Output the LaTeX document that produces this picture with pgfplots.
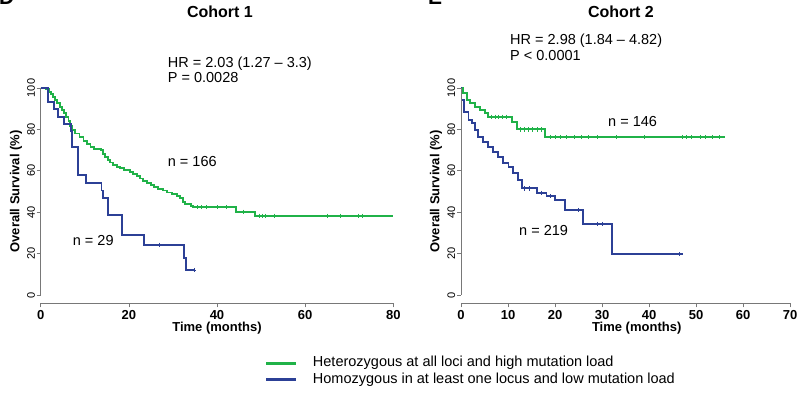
\documentclass[border=0pt]{standalone}
\usepackage{pgfplots}
\pgfplotsset{compat=1.18}
\usepackage{fontspec}
\setmainfont{Liberation Sans}
\definecolor{kmgreen}{RGB}{32,178,72}
\definecolor{kmblue}{RGB}{44,64,150}
\definecolor{axgray}{RGB}{120,120,120}
\newcommand{\fs}[1]{\fontsize{#1bp}{#1bp}\selectfont}
\pgfplotsset{
  kmaxis/.style={
    scale only axis, height=223.6bp,
    ymin=-4, ymax=104, ytick={0,20,...,100},
    axis lines*=left, axis line style={draw=none},
    tick align=outside, major tick length=4bp,
    every tick/.style={axgray, line width=0.6bp},
    clip=false,
    /pgf/number format/assume math mode=true,
    yticklabel style={font=\fs{11}, rotate=90, anchor=south, inner sep=1.5bp},
    xticklabel style={font=\bfseries\fs{13}, anchor=north, inner sep=1.5bp, yshift=-1bp},
    xlabel={Time (months)}, ylabel={Overall Survival (\%)},
    xlabel style={font=\bfseries\fs{13}, anchor=base},
    ylabel style={font=\bfseries\fs{13}, anchor=center, rotate=0},
  },
  kmline/.style={const plot, line width=1.9bp},
  censor/.style={only marks, mark=+, mark size=2.2bp, mark options={line width=0.6bp}},
}
\begin{document}
\begin{tikzpicture}
\path[use as bounding box] (0,0) rectangle (803bp,402bp);
% panel letters (cut off at top, as in the original figure)
\node[anchor=base west, inner sep=0, font=\bfseries\fs{21}] at (-1bp,397bp) {D};
\node[anchor=base west, inner sep=0, font=\bfseries\fs{21}] at (428bp,397bp) {E};
% ---------------- Cohort 1 ----------------
\begin{axis}[kmaxis, at={(40.7bp,98.7bp)}, anchor=south west, width=352.6bp,
  xmin=0, xmax=80, xtick={0,20,...,80},
  xlabel style={at={(axis description cs:0.5,-0.128)}},
  ylabel style={at={(axis description cs:-0.07,0.5)}},
  legend style={draw=none, fill=none, at={(axis description cs:0.627,-0.3046)}, anchor=west,
    font=\fs{14.5}, row sep=0bp, cells={anchor=west},
    nodes={inner sep=1.5bp, text height=10.5bp, text depth=3bp}},
  legend image code/.code={\draw[#1, line width=3bp] (0bp,0bp) -- (30bp,0bp);
     \path[draw=none, fill=none] (0bp,0bp) (45bp,0bp);},
]
\addplot[kmline, kmgreen] coordinates {
(0,100)(1.2,99.4)(1.8,98.2)(2.3,97)(2.8,95.8)(3.3,94.2)(3.8,92.6)(4.3,91)(4.8,89.4)(5.3,87.8)
(5.8,86)(6.3,84)(6.7,81.5)(7.0,79.5)(7.8,78)(8.8,76.5)(9.7,74.5)(10.5,73)(11.3,71.5)(12,70.7)
(13.6,70)(14.1,68)(14.6,66.5)(15.2,65)(15.7,64)(16.5,62.8)(17.3,62)(18,61.2)(19,60.4)(20.2,59.4)
(21,58.5)(21.8,57.5)(22.5,56.3)(23.3,55)(24.2,54)(25,53)(25.8,52)(26.6,51.3)(27.7,50.5)(28.6,49.5)
(29.8,49)(31,48)(31.6,47)(32.3,45)(32.8,44)(34,43.2)(34.6,42.4)(44.4,40.2)(48.6,38.2)(80,38.2)};
\addlegendentry{Heterozygous at all loci and high mutation load}
\addplot[kmline, kmblue] coordinates {
(0,100)(1.7,93.1)(3.1,89.7)(4.0,86.2)(5.2,82.8)(6.8,79.3)(7.2,71.7)(8.5,58)(10.2,54)(13.8,50.5)
(14.2,47)(15.3,38.6)(18.4,29)(23.4,24.2)(32.5,18)(33,12)(34.8,12)};
\addlegendentry{Homozygous in at least one locus and low mutation load}
\addplot[censor, kmgreen, forget plot] coordinates {
(35.5,42.4)(36.5,42.4)(37.5,42.4)(40,42.4)(42,42.4)(46,40.2)(49.5,38.2)(50.3,38.2)(51,38.2)(53,38.2)
(65,38.2)(68,38.2)(72,38.2)(73,38.2)};
\addplot[censor, kmblue, forget plot] coordinates {(27,24.2)(34.8,12)};
\end{axis}
\draw[axgray, line width=0.8bp] (40.7bp,98.7bp) -- (393.3bp,98.7bp);
\draw[axgray, line width=0.8bp] (40.7bp,107bp) -- (40.7bp,314bp);
\node[anchor=base, font=\bfseries\fs{16}] at (220bp,384bp) {Cohort 1};
\node[anchor=base west, font=\fs{14.5}, inner sep=0] at (167.7bp,334bp) {HR = 2.03 (1.27 -- 3.3)};
\node[anchor=base west, font=\fs{14.5}, inner sep=0] at (167.7bp,319.3bp) {P = 0.0028};
\node[anchor=base west, font=\fs{14.5}, inner sep=0] at (167.7bp,235.3bp) {n = 166};
\node[anchor=base west, font=\fs{14.5}, inner sep=0] at (72.7bp,156.3bp) {n = 29};
% ---------------- Cohort 2 ----------------
\begin{axis}[kmaxis, at={(461bp,98.7bp)}, anchor=south west, width=329bp,
  xmin=0, xmax=70, xtick={0,10,...,70},
  xlabel style={at={(axis description cs:0.534,-0.128)}},
  ylabel style={at={(axis description cs:-0.076,0.5)}},
]
\addplot[kmline, kmgreen] coordinates {
(0,100)(0.5,97.4)(1.2,94.2)(1.9,92.6)(3,91)(4,89.4)(5.1,87.8)(5.8,86.1)(10.8,83.7)(11.9,80)
(17.9,76.2)(56.2,76.2)};
\addplot[kmline, kmblue] coordinates {
(0,100)(0.1,94)(0.7,88.6)(1.6,84.5)(2.3,83)(3,79.7)(3.7,76.2)(4.7,74)(5.8,71.6)(6.9,69.2)
(7.9,66.8)(9,63.6)(10.1,62)(11.1,58.8)(12.2,55.6)(12.9,51.5)(16.1,49.4)(18.2,47.8)(20,45.9)
(22.1,41)(26,34.3)(32.1,19.7)(47.2,19.7)};
\addplot[censor, kmgreen] coordinates {
(6.5,86.1)(7.3,86.1)(8,86.1)(8.8,86.1)(9.6,86.1)(12.6,80)(13.4,80)(14.3,80)(15.2,80)(16.2,80)(17,80)
(19,76.2)(20,76.2)(21.2,76.2)(22.5,76.2)(24,76.2)(25.5,76.2)(27,76.2)(29,76.2)(33,76.2)(39,76.2)
(47,76.2)(48,76.2)(49,76.2)(51,76.2)(52,76.2)(53.5,76.2)(55,76.2)};
\addplot[censor, kmblue] coordinates {
(13.5,51.5)(14.5,51.5)(17,49.4)(19,47.8)(25,41)(29,34.3)(30,34.3)(46.5,19.7)};
\end{axis}
\draw[axgray, line width=0.8bp] (461bp,98.7bp) -- (790bp,98.7bp);
\draw[axgray, line width=0.8bp] (461bp,107bp) -- (461bp,314bp);
\node[anchor=base, font=\bfseries\fs{16}] at (621bp,384bp) {Cohort 2};
\node[anchor=base west, font=\fs{14.5}, inner sep=0] at (510bp,357bp) {HR = 2.98 (1.84 -- 4.82)};
\node[anchor=base west, font=\fs{14.5}, inner sep=0] at (510bp,341.3bp) {P < 0.0001};
\node[anchor=base west, font=\fs{14.5}, inner sep=0] at (608bp,275.3bp) {n = 146};
\node[anchor=base west, font=\fs{14.5}, inner sep=0] at (519bp,166bp) {n = 219};
\end{tikzpicture}
\end{document}
